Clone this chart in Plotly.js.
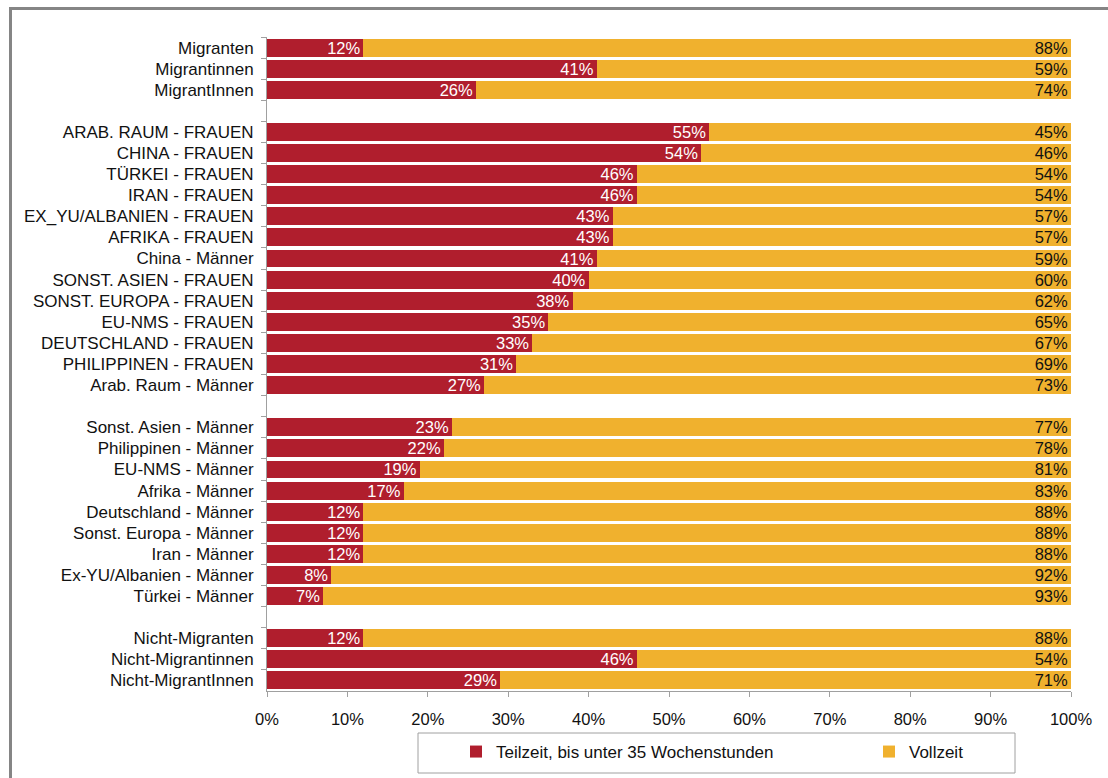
<!DOCTYPE html>
<html>
<head>
<meta charset="utf-8">
<script src="https://cdn.plot.ly/plotly-3.0.1.min.js"></script>
<style>
html,body{margin:0;padding:0;background:#fff;overflow:hidden;}
#wrap{position:relative;width:1108px;height:778px;overflow:hidden;}
#chart{width:1108px;height:778px;}
#frame{position:absolute;left:9px;top:7px;width:1110px;height:790px;border:3px solid #858585;box-sizing:border-box;pointer-events:none;}
</style>
</head>
<body>
<div id="wrap"><div id="chart"></div><div id="frame"></div></div>
<script>
const categories = [
  "Migranten","Migrantinnen","MigrantInnen"," ",
  "ARAB. RAUM - FRAUEN","CHINA - FRAUEN","TÜRKEI - FRAUEN","IRAN - FRAUEN",
  "EX_YU/ALBANIEN - FRAUEN","AFRIKA - FRAUEN","China - Männer","SONST. ASIEN - FRAUEN",
  "SONST. EUROPA - FRAUEN","EU-NMS - FRAUEN","DEUTSCHLAND - FRAUEN","PHILIPPINEN - FRAUEN",
  "Arab. Raum - Männer","  ",
  "Sonst. Asien - Männer","Philippinen - Männer","EU-NMS - Männer","Afrika - Männer",
  "Deutschland - Männer","Sonst. Europa - Männer","Iran - Männer","Ex-YU/Albanien - Männer",
  "Türkei - Männer","   ",
  "Nicht-Migranten","Nicht-Migrantinnen","Nicht-MigrantInnen"
];
const teilzeit = [
  12,41,26,null,
  55,54,46,46,43,43,41,40,38,35,33,31,27,null,
  23,22,19,17,12,12,12,8,7,null,
  12,46,29
];
const vollzeit = [
  88,59,74,null,
  45,46,54,54,57,57,59,60,62,65,67,69,73,null,
  77,78,81,83,88,88,88,92,93,null,
  88,54,71
];
const seriesNames = ["Teilzeit, bis unter 35 Wochenstunden","Vollzeit"];
const xTicks = [0,10,20,30,40,50,60,70,80,90,100];

const FONT = "Liberation Sans, Arial, sans-serif";
const RED = "#B01E2D";
const YEL = "#F0B12E";
const pct = v => (v === null ? "" : v + "%");

const traces = [
  {type:"bar", orientation:"h", name:seriesNames[0], y:categories, x:teilzeit,
   text:teilzeit.map(pct), texttemplate:"%{text}",
   marker:{color:RED}, textposition:"inside", insidetextanchor:"end", constraintext:"none",
   textfont:{color:"#ffffff", size:16.5, family:FONT}, hoverinfo:"skip", legend:"legend"},
  {type:"bar", orientation:"h", name:seriesNames[1], y:categories, x:vollzeit,
   text:vollzeit.map(pct), texttemplate:"%{text}",
   marker:{color:YEL}, textposition:"inside", insidetextanchor:"end", constraintext:"none",
   textfont:{color:"#111111", size:16.5, family:FONT}, hoverinfo:"skip", legend:"legend2"}
];

const legendBase = {orientation:"h", yanchor:"middle", y:-(752-691)/654, xanchor:"left",
  itemwidth:30, font:{size:17, family:FONT, color:"#111"}, bgcolor:"rgba(0,0,0,0)", borderwidth:0};

const layout = {
  width:1108, height:778,
  margin:{l:267, r:37, t:37, b:87, pad:0, autoexpand:false},
  barmode:"stack", bargap:0.15,
  paper_bgcolor:"#ffffff", plot_bgcolor:"#ffffff",
  font:{family:FONT, size:17, color:"#111"},
  showlegend:true,
  legend:Object.assign({}, legendBase, {x:(456-267)/804}),
  legend2:Object.assign({}, legendBase, {x:(869-267)/804}),
  xaxis:{range:[0,100], tickvals:xTicks, ticktext:xTicks.map(v=>v+"%"),
    showgrid:false, zeroline:false, showline:true, linecolor:"#a0a0a0", linewidth:1,
    ticks:"outside", ticklen:5, tickcolor:"#a0a0a0", tickfont:{size:16.5},
    ticklabelstandoff:8, fixedrange:true},
  yaxis:{type:"category", categoryorder:"array", categoryarray:categories, autorange:"reversed",
    showgrid:false, zeroline:false, showline:true, linecolor:"#a0a0a0", linewidth:1,
    ticks:"outside", ticklen:5, tickcolor:"#a0a0a0", tickson:"boundaries",
    tickfont:{size:17}, ticklabelstandoff:9, fixedrange:true},
  shapes:[
    {type:"rect", xref:"paper", yref:"paper",
     x0:(418-267)/804, x1:(1015-267)/804, y0:-(773-691)/654, y1:-(733-691)/654,
     line:{color:"#a0a0a0", width:1}, fillcolor:"rgba(0,0,0,0)", layer:"above"}
  ]
};

Plotly.newPlot("chart", traces, layout, {displayModeBar:false, staticPlot:true});
</script>
</body>
</html>
